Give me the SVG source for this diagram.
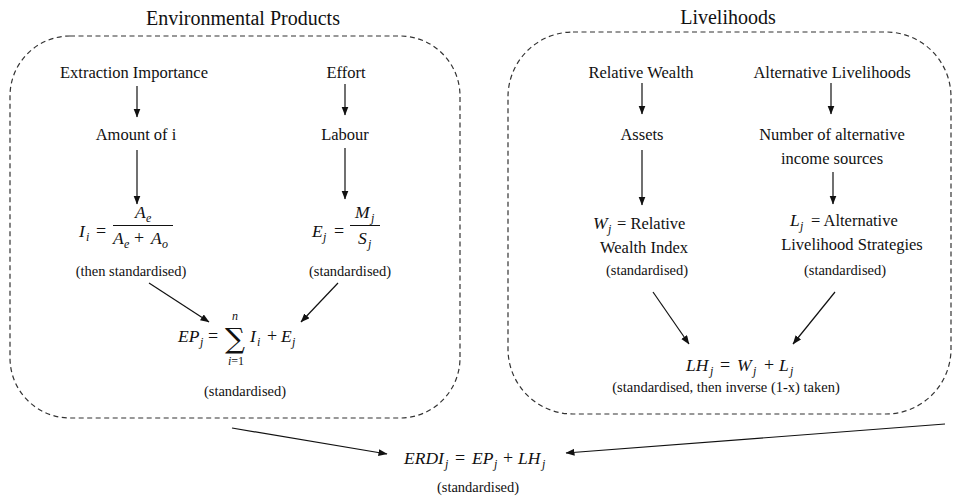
<svg xmlns="http://www.w3.org/2000/svg" width="953" height="497" viewBox="0 0 953 497" font-family="'Liberation Serif', 'Times New Roman', 'DejaVu Serif', serif">
<defs>
<style>
text{font-family:'Liberation Serif','Times New Roman','DejaVu Serif',serif;fill:#111;}
.t{font-size:16.5px;text-anchor:middle;}
.ts{font-size:16.5px;}
.h{font-size:20px;text-anchor:middle;}
.s{font-size:14.5px;text-anchor:middle;}
.m{font-size:17.5px;font-style:italic;}
.sub{font-size:12px;font-style:italic;}
.u{font-size:18px;}
.box{fill:none;stroke:#333;stroke-width:1.2;stroke-dasharray:5,3.5;}
.c line{stroke:#111;stroke-width:1.2;marker-end:url(#ah);}
.fr{stroke:#111;stroke-width:1;}
</style>
<marker id="ah" markerUnits="userSpaceOnUse" markerWidth="9" markerHeight="8" refX="8.5" refY="3.5" orient="auto">
<path d="M0,0 L9,3.5 L0,7 Z" fill="#111"/>
</marker>
</defs>
<rect width="953" height="497" fill="#fff"/>

<g id="ep-panel">
<text class="h" x="243" y="25">Environmental Products</text>
<rect class="box" x="10" y="36" width="450" height="382" rx="60" ry="60"/>
</g>
<g id="lh-panel">
<text class="h" x="728" y="24">Livelihoods</text>
<rect class="box" x="508" y="32" width="443" height="382" rx="65" ry="65"/>
</g>

<g id="extraction"><text class="t" x="134" y="78">Extraction Importance</text></g>
<g id="effort"><text class="t" x="346" y="78">Effort</text></g>
<g id="amount"><text class="t" x="136" y="140">Amount of i</text></g>
<g id="labour"><text class="t" x="345" y="140">Labour</text></g>

<g id="Ii">
<text class="m" x="79" y="237">I</text><text class="sub" x="86" y="241">i</text>
<text class="u" x="96" y="237">=</text>
<line class="fr" x1="113" y1="225.5" x2="173" y2="225.5"/>
<text class="m" x="135" y="218">A</text><text class="sub" x="146" y="222">e</text>
<text class="m" x="113" y="244">A</text><text class="sub" x="124" y="248">e</text>
<text class="u" x="134" y="244">+</text>
<text class="m" x="151" y="244">A</text><text class="sub" x="162" y="248">o</text>
<text class="s" x="131" y="276">(then standardised)</text>
</g>

<g id="Ej">
<text class="m" x="312" y="237">E</text><text class="sub" x="323" y="241">j</text>
<text class="u" x="334" y="237">=</text>
<line class="fr" x1="350" y1="225.5" x2="380" y2="225.5"/>
<text class="m" x="355" y="218">M</text><text class="sub" x="371" y="222">j</text>
<text class="m" x="358" y="244">S</text><text class="sub" x="368" y="248">j</text>
<text class="s" x="350" y="276">(standardised)</text>
</g>

<g id="EPj">
<text class="m" x="178" y="342">EP</text><text class="sub" x="200" y="346">j</text>
<text class="u" x="208" y="342">=</text>
<text x="235" y="348" style="font-family:'DejaVu Serif',serif;font-size:28px;text-anchor:middle;">∑</text>
<text class="sub" x="232" y="320">n</text>
<text x="236" y="365" style="font-size:12px;text-anchor:middle;"><tspan font-style="italic">i</tspan>=1</text>
<text class="m" x="250" y="342">I</text><text class="sub" x="257" y="346">i</text>
<text class="u" x="267" y="342">+</text>
<text class="m" x="281" y="342">E</text><text class="sub" x="292" y="346">j</text>
<text class="s" x="245" y="396">(standardised)</text>
</g>

<g id="relwealth"><text class="t" x="641" y="78">Relative Wealth</text></g>
<g id="altliv"><text class="t" x="832" y="78">Alternative Livelihoods</text></g>
<g id="assets"><text class="t" x="642" y="140">Assets</text></g>
<g id="numalt"><text class="t" x="832" y="140">Number of alternative</text><text class="t" x="832" y="164">income sources</text></g>

<g id="Wj">
<text class="m" x="593" y="229">W</text><text class="sub" x="608" y="233">j</text>
<text class="ts" x="617" y="229">= Relative</text>
<text class="t" x="644" y="253">Wealth Index</text>
<text class="s" x="647" y="275">(standardised)</text>
</g>
<g id="Lj">
<text class="m" x="790" y="226">L</text><text class="sub" x="800" y="230">j</text>
<text class="ts" x="811" y="226">= Alternative</text>
<text class="t" x="852" y="250">Livelihood Strategies</text>
<text class="s" x="845" y="275">(standardised)</text>
</g>

<g id="LHj">
<text class="m" x="686" y="371">LH</text><text class="sub" x="710" y="375">j</text>
<text class="u" x="720" y="371">=</text>
<text class="m" x="737" y="371">W</text><text class="sub" x="753" y="375">j</text>
<text class="u" x="764" y="371">+</text>
<text class="m" x="779" y="371">L</text><text class="sub" x="790" y="375">j</text>
<text class="s" x="726" y="392">(standardised, then inverse (1-x) taken)</text>
</g>

<g id="ERDIj">
<text class="m" x="404" y="464">ERDI</text><text class="sub" x="445" y="468">j</text>
<text class="u" x="455" y="464">=</text>
<text class="m" x="472" y="464">EP</text><text class="sub" x="494" y="468">j</text>
<text class="u" x="503" y="464">+</text>
<text class="m" x="518" y="464">LH</text><text class="sub" x="542" y="468">j</text>
<text class="s" x="478" y="492">(standardised)</text>
</g>

<g id="connectors" class="c">
<line x1="137" y1="86" x2="137" y2="117"/>
<line x1="345" y1="84" x2="345" y2="115"/>
<line x1="137" y1="150" x2="137" y2="204"/>
<line x1="345" y1="148" x2="345" y2="199"/>
<line x1="149" y1="283" x2="209" y2="322"/>
<line x1="338" y1="283" x2="301" y2="322"/>
<line x1="642" y1="83" x2="642" y2="114"/>
<line x1="831" y1="83" x2="831" y2="114"/>
<line x1="642" y1="150" x2="642" y2="205"/>
<line x1="833" y1="172" x2="833" y2="204"/>
<line x1="653" y1="292" x2="689" y2="344"/>
<line x1="835" y1="292" x2="793" y2="344"/>
<line x1="232" y1="428" x2="387" y2="454"/>
<line x1="945" y1="424" x2="566" y2="453"/>
</g>
</svg>
